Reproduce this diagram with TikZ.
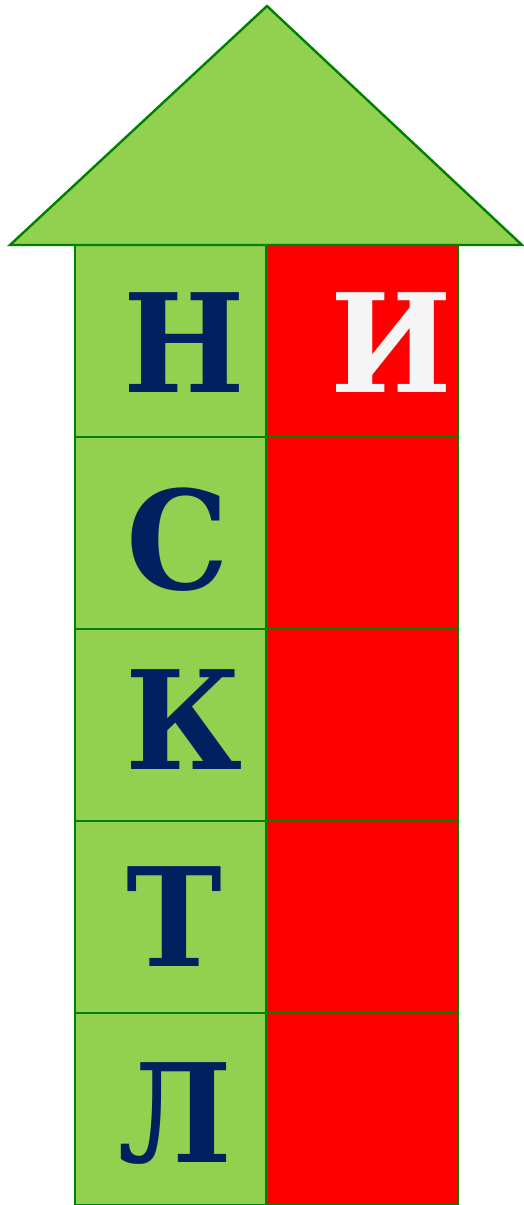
\documentclass[tikz,border=0pt]{standalone}
\usepackage{fontspec}
\newfontfamily\letterfont{DejaVu Serif Bold}[FakeStretch=0.94]
\definecolor{leafgreen}{HTML}{92D050}
\definecolor{edgegreen}{HTML}{008000}
\definecolor{cellred}{HTML}{FF0000}
\definecolor{navy}{HTML}{002060}
\definecolor{offwhite}{HTML}{F5F5F5}
\tikzset{
  greencell/.style={fill=leafgreen, draw=edgegreen, line width=2.4pt},
  redcell/.style={fill=cellred, draw=edgegreen, line width=2.4pt},
  letter/.style={inner sep=0pt, font=\letterfont\fontsize{137}{137}\selectfont, text=navy},
  whiteletter/.style={letter, text=offwhite}
}
\begin{document}
\begin{tikzpicture}[x=1pt,y=-1pt]
\useasboundingbox (0,0) rectangle (523,1205);
\foreach \i in {0,...,4}{
  \pgfmathsetmacro{\top}{245+192*\i}
  \pgfmathsetmacro{\bot}{245+192*(\i+1)}
  \path[greencell] (75,\top) rectangle (266,\bot);
  \path[redcell] (266,\top) rectangle (458,\bot);
}
\path[greencell, line join=miter] (10,245) -- (267,6) -- (522,245) -- cycle;
\node[letter] (n) at (184,343) {Н};
\node[whiteletter] (i) at (391,343) {И};
\node[letter] (s) at (178,540) {С};
\node[letter] (k) at (184,720) {К};
\node[letter] (t) at (174,917) {Т};
\node[letter] (l) at (175,1114) {Л};
\end{tikzpicture}
\end{document}
